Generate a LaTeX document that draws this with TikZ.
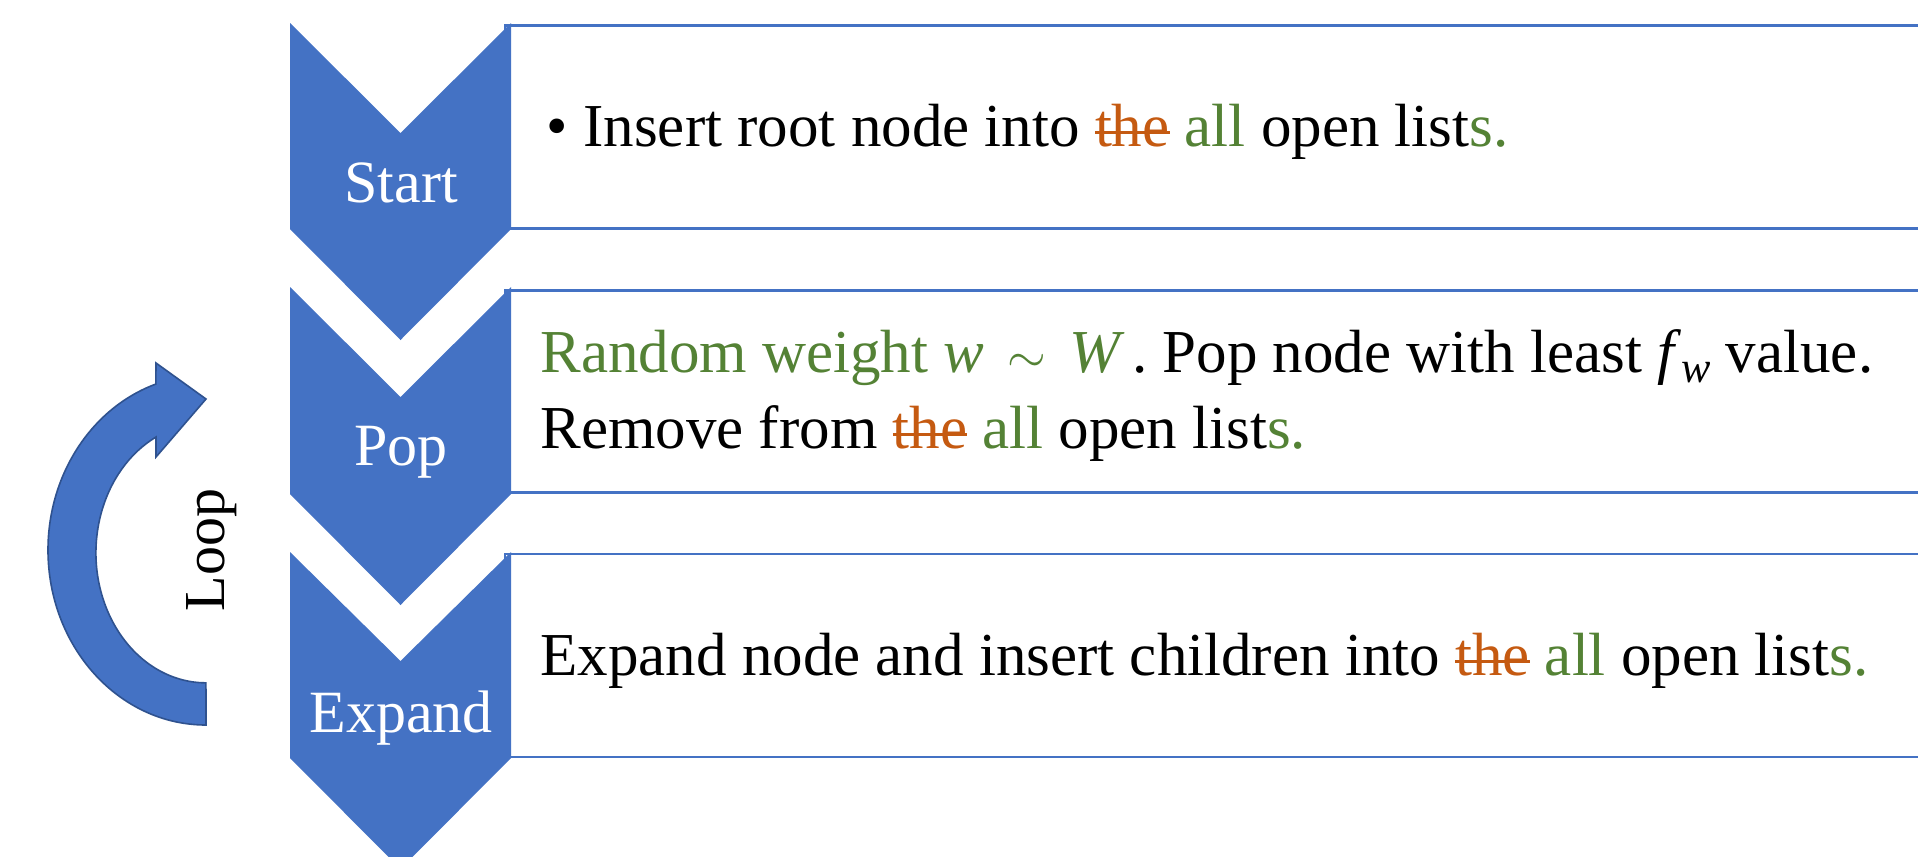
\documentclass[tikz,border=0pt]{standalone}
\usepackage{fontspec}
\setmainfont{Liberation Serif}
\definecolor{obl}{HTML}{4472C4}
\definecolor{odk}{HTML}{2F528F}
\definecolor{ogr}{HTML}{548235}
\definecolor{oor}{HTML}{C55A11}
\newsavebox\stkbox
\newcommand\strk[1]{\sbox\stkbox{#1}\rlap{\usebox\stkbox}\rule[0.2em]{\wd\stkbox}{0.04em}}
\newcommand\subw{\raisebox{-0.17em}{\fontsize{22}{22}\selectfont\textit{w}}}
\begin{document}
\begin{tikzpicture}[x=0.5pt,y=-0.5pt,
  chev/.style={fill=obl,draw=none},
  box/.style={draw=obl,line width=1.4pt,fill=white},
  lbl/.style={text=white,font=\fontsize{30}{36}\selectfont,inner sep=0,anchor=base},
  body/.style={font=\fontsize{30.5}{36}\selectfont,inner sep=0,anchor=base west},
  looparrow/.style={fill=obl,draw=odk,line width=0.8pt,line join=miter},
]
\clip (0,0) rectangle (1918,857);
\fill[white] (0,0) rectangle (1918,857);
% text boxes
\draw[box] (505,25.5) rectangle (1940,228.7);
\draw[box] (505,290.5) rectangle (1940,492.7);
\draw[box] (505,554) rectangle (1940,757);
% chevrons
\fill[chev] (290,23) -- (400.5,133) -- (511,23) -- (511,229) -- (400.5,340) -- (290,229) -- cycle;
\fill[chev] (290,287) -- (400.5,397) -- (511,287) -- (511,494) -- (400.5,605) -- (290,494) -- cycle;
\fill[chev] (290,552) -- (400.5,661) -- (511,552) -- (511,758) -- (400.5,869) -- (290,758) -- cycle;
% chevron labels
\node[lbl] (start) at (401,202) {Start};
\node[lbl] (pop) at (401,465) {Pop};
\node[lbl] (expand) at (401,732) {Expand};
% body texts
\node[body] (startbullet) at (546,146) {•};
\node[body] (starttext) at (583,146) {Insert root node into {\color{oor}\strk{the}} {\color{ogr}all} open list{\color{ogr}s.}};
\node[body] (poptexta) at (540,372) {{\color{ogr}Random weight \textit{w}\hspace{0.38em}$\sim$\hspace{0.38em}\textit{W}}\hspace{0.12em}. Pop node with least \textit{f}\subw\ value.};
\node[body] (poptextb) at (540,448) {Remove from {\color{oor}\strk{the}} {\color{ogr}all} open list{\color{ogr}s.}};
\node[body] (expandtext) at (540,675) {Expand node and insert children into {\color{oor}\strk{the}} {\color{ogr}all} open list{\color{ogr}s.}};
% loop arrow
\filldraw[looparrow] (206,725) arc[start angle=90,end angle=251.5,x radius=158,y radius=175]
  -- (156,363) -- (206,399) -- (156,457) -- (156,437)
  arc[start angle=243,end angle=90,x radius=110,y radius=130] -- cycle;
\node[rotate=90,inner sep=0,font=\fontsize{29}{34}\selectfont] (loop) at (212,550) {Loop};
\end{tikzpicture}
\end{document}
